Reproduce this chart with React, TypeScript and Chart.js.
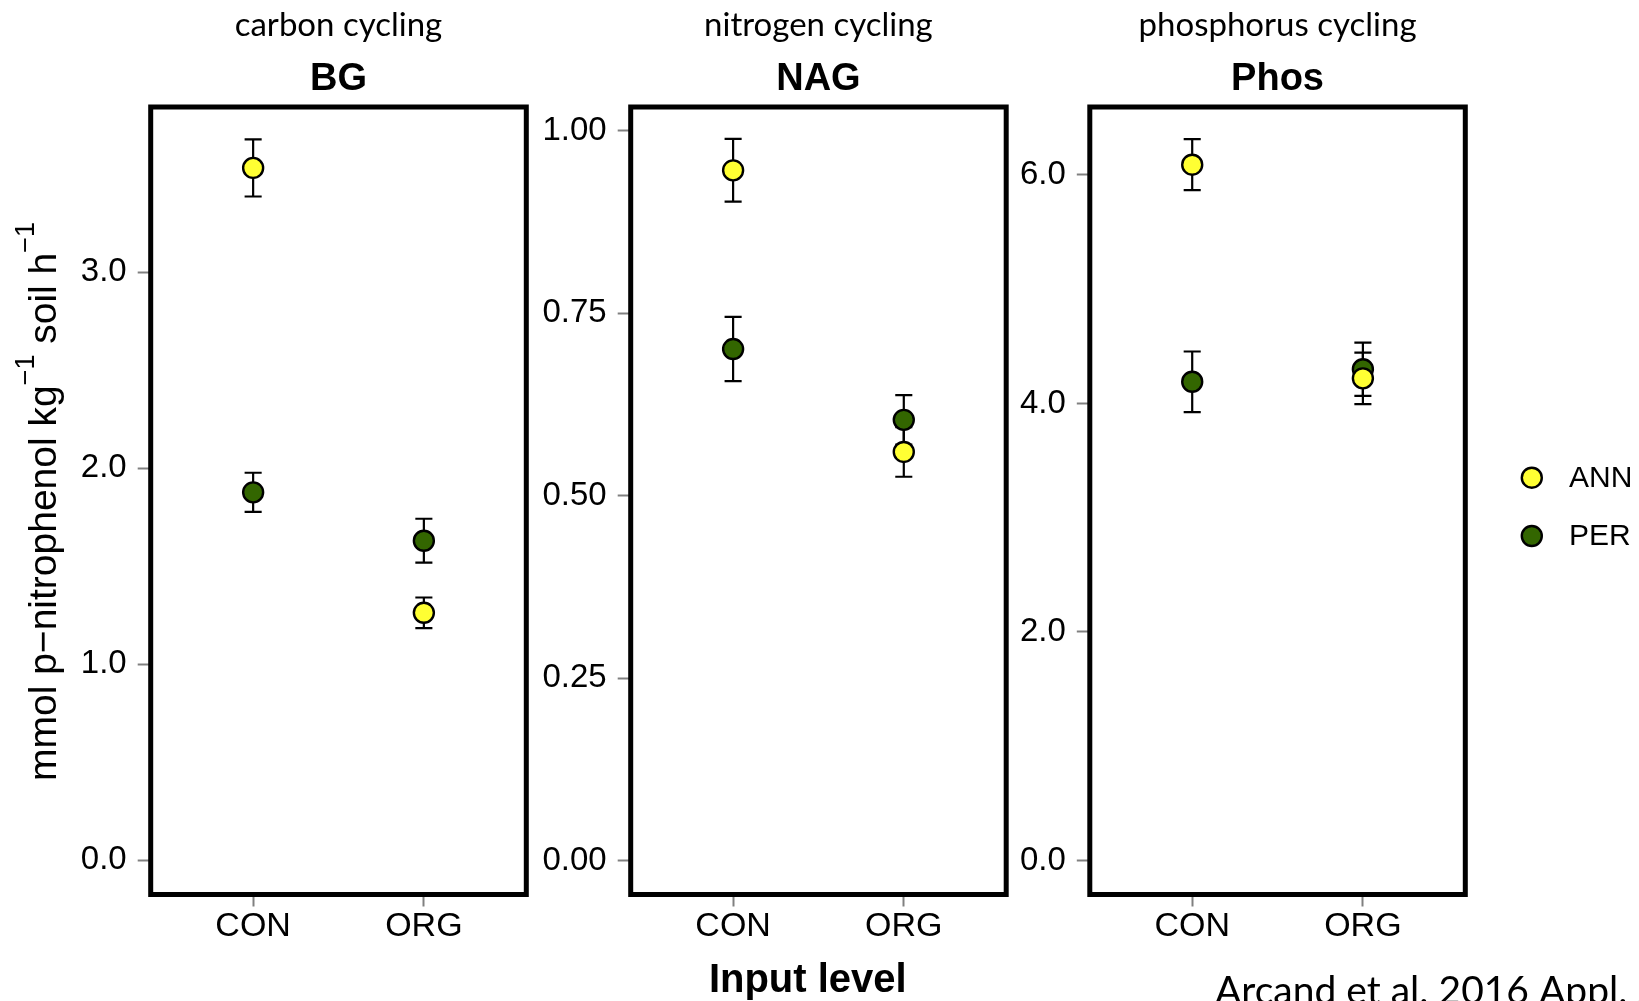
import React, { useEffect, useRef } from "react";
import { Chart, registerables } from "chart.js";

Chart.register(...registerables);

// ---------- data ----------
const categories = ["CON", "ORG"];
const groups = ["ANN", "PER"];
const groupColors = ["#FFFF33", "#336600"];

const panelNames = ["BG", "NAG", "Phos"];
const panelProcesses = ["carbon cycling", "nitrogen cycling", "phosphorus cycling"];

// BG (mean, standard error) per category
const bgAnnMean = [3.533, 1.262];
const bgAnnErr = [0.146, 0.078];
const bgPerMean = [1.877, 1.63];
const bgPerErr = [0.1, 0.112];

// NAG
const nagAnnMean = [0.946, 0.56];
const nagAnnErr = [0.043, 0.034];
const nagPerMean = [0.701, 0.604];
const nagPerErr = [0.044, 0.034];

// Phos
const phosAnnMean = [6.09, 4.22];
const phosAnnErr = [0.223, 0.225];
const phosPerMean = [4.19, 4.3];
const phosPerErr = [0.265, 0.233];

const bgTicks = [0, 1, 2, 3];
const nagTicks = [0, 0.25, 0.5, 0.75, 1.0];
const phosTicks = [0, 2, 4, 6];

const yAxisTitleParts = ["mmol p\u2212nitrophenol kg", "\u22121", " soil h", "\u22121"];
const xAxisTitle = "Input level";
const citation = "Arcand et al. 2016 Appl. Soil Ecol.";

// ---------- layout / style ----------
const W = 1639;
const H = 1001;
const PANEL_TOP = 107;
const PANEL_BOTTOM = 894.5;
const Y_AXIS_W = 100;
const X_AXIS_H = 60;
const ARIAL = "'Liberation Sans', Arial, sans-serif";
const CALIBRI = "Lato, 'Open Sans', sans-serif";

type PanelCfg = {
  left: number;
  right: number;
  yMin: number;
  yMax: number;
  ticks: number[];
  decimals: number;
  ann: number[];
  annErr: number[];
  per: number[];
  perErr: number[];
  index: number;
};

const panels: PanelCfg[] = [
  { index: 0, left: 150.7, right: 526.3, yMin: -0.176, yMax: 3.844, ticks: bgTicks, decimals: 1, ann: bgAnnMean, annErr: bgAnnErr, per: bgPerMean, perErr: bgPerErr },
  { index: 1, left: 630.7, right: 1006.2, yMin: -0.0466, yMax: 1.0328, ticks: nagTicks, decimals: 2, ann: nagAnnMean, annErr: nagAnnErr, per: nagPerMean, perErr: nagPerErr },
  { index: 2, left: 1089.8, right: 1465.3, yMin: -0.298, yMax: 6.595, ticks: phosTicks, decimals: 1, ann: phosAnnMean, annErr: phosAnnErr, per: phosPerMean, perErr: phosPerErr },
];

const errorBarPlugin = {
  id: "errorBars",
  beforeDatasetsDraw(chart: any) {
    const ctx = chart.ctx;
    const xs = chart.scales.x;
    const ys = chart.scales.y;
    ctx.save();
    ctx.strokeStyle = "#000";
    ctx.lineWidth = 2.2;
    chart.data.datasets.forEach((ds: any) => {
      ds.data.forEach((p: any, i: number) => {
        const e = ds.err[i];
        const px = xs.getPixelForValue(p.x);
        const x0 = xs.getPixelForValue(p.x - 0.05);
        const x1 = xs.getPixelForValue(p.x + 0.05);
        const yTop = ys.getPixelForValue(p.y + e);
        const yBot = ys.getPixelForValue(p.y - e);
        ctx.beginPath();
        ctx.moveTo(px, yTop);
        ctx.lineTo(px, yBot);
        ctx.moveTo(x0, yTop);
        ctx.lineTo(x1, yTop);
        ctx.moveTo(x0, yBot);
        ctx.lineTo(x1, yBot);
        ctx.stroke();
      });
    });
    ctx.restore();
  },
};

const boxPlugin = {
  id: "panelBox",
  afterDatasetsDraw(chart: any) {
    const { ctx, chartArea } = chart;
    ctx.save();
    ctx.strokeStyle = "#000";
    ctx.lineWidth = 5;
    ctx.strokeRect(chartArea.left, chartArea.top, chartArea.right - chartArea.left, chartArea.bottom - chartArea.top);
    ctx.restore();
  },
};

function makeTextPlugin(cfg: PanelCfg) {
  return {
    id: "panelText" + cfg.index,
    afterDraw(chart: any) {
      const { ctx, chartArea } = chart;
      const cx = (chartArea.left + chartArea.right) / 2;
      ctx.save();
      ctx.fillStyle = "#000";
      ctx.textAlign = "center";
      ctx.textBaseline = "alphabetic";
      ctx.font = `33px ${CALIBRI}`;
      ctx.fillText(panelProcesses[cfg.index], cx, 36);
      ctx.font = `bold 38px ${ARIAL}`;
      ctx.fillText(panelNames[cfg.index], cx, 89.5);

      if (cfg.index === 0) {
        // y axis title with superscripts
        ctx.translate(56, 781);
        ctx.rotate(-Math.PI / 2);
        ctx.textAlign = "left";
        let x = 0;
        yAxisTitleParts.forEach((t, i) => {
          const sup = i % 2 === 1;
          ctx.font = sup ? `27px ${ARIAL}` : `39px ${ARIAL}`;
          ctx.fillText(t, x, sup ? -22 : 0);
          x += ctx.measureText(t).width;
        });
      }
      if (cfg.index === 1) {
        ctx.font = `bold 40px ${ARIAL}`;
        ctx.textAlign = "center";
        ctx.fillText(xAxisTitle, 807.8, 991.7);
      }
      if (cfg.index === 2) {
        // legend
        const lx = 1531.8;
        const ly = [477.7, 536];
        chart.data.datasets.forEach((ds: any, i: number) => {
          ctx.beginPath();
          ctx.arc(lx, ly[i], 10, 0, Math.PI * 2);
          ctx.fillStyle = ds.backgroundColor;
          ctx.fill();
          ctx.lineWidth = 2.4;
          ctx.strokeStyle = "#000";
          ctx.stroke();
          ctx.fillStyle = "#000";
          ctx.font = `30px ${ARIAL}`;
          ctx.textAlign = "left";
          ctx.textBaseline = "middle";
          ctx.fillText(ds.label, 1569, ly[i] + 1);
        });
        ctx.textBaseline = "alphabetic";
        ctx.textAlign = "left";
        ctx.font = `39px ${CALIBRI}`;
        ctx.fillText(citation, 1215, 1004);
      }
      ctx.restore();
    },
  };
}

function buildChart(canvas: HTMLCanvasElement, cfg: PanelCfg) {
  const series = [
    { mean: cfg.ann, err: cfg.annErr },
    { mean: cfg.per, err: cfg.perErr },
  ];
  return new Chart(canvas, {
    type: "scatter",
    data: {
      datasets: series.map((s, gi) => ({
        label: groups[gi],
        data: categories.map((_, ci) => ({ x: ci + 1, y: s.mean[ci] })),
        err: s.err,
        backgroundColor: groupColors[gi],
        borderColor: "#000",
        borderWidth: 2.4,
        pointRadius: 10,
        pointHoverRadius: 10,
      })) as any,
    },
    options: {
      animation: false,
      responsive: false,
      events: [],
      layout: {
        padding: {
          left: cfg.left - Y_AXIS_W,
          right: W - cfg.right,
          top: PANEL_TOP,
          bottom: H - PANEL_BOTTOM - X_AXIS_H,
        },
      },
      plugins: {
        legend: { display: false },
        tooltip: { enabled: false },
        title: { display: false },
      },
      scales: {
        x: {
          type: "linear",
          min: 0.4,
          max: 2.6,
          afterBuildTicks: (s: any) => {
            s.ticks = categories.map((_, i) => ({ value: i + 1 }));
          },
          afterFit: (s: any) => {
            s.height = X_AXIS_H;
          },
          ticks: {
            callback: (v: any) => categories[Math.round(Number(v)) - 1] ?? "",
            font: { family: ARIAL, size: 34 },
            color: "#000",
            padding: 0,
            autoSkip: false,
            maxRotation: 0,
          },
          grid: {
            display: true,
            drawOnChartArea: false,
            drawTicks: true,
            tickLength: 12,
            tickColor: "#808080",
            tickWidth: 2,
          },
          border: { display: false },
        },
        y: {
          type: "linear",
          min: cfg.yMin,
          max: cfg.yMax,
          afterBuildTicks: (s: any) => {
            s.ticks = cfg.ticks.map((v) => ({ value: v }));
          },
          afterFit: (s: any) => {
            s.width = Y_AXIS_W;
          },
          ticks: {
            callback: (v: any) => Number(v).toFixed(cfg.decimals),
            font: { family: ARIAL, size: 33 },
            color: "#000",
            padding: 11,
            autoSkip: false,
          },
          grid: {
            display: true,
            drawOnChartArea: false,
            drawTicks: true,
            tickLength: 13,
            tickColor: "#808080",
            tickWidth: 2,
          },
          border: { display: false },
        },
      },
    },
    plugins: [errorBarPlugin, boxPlugin, makeTextPlugin(cfg)],
  } as any);
}

function Panel({ cfg }: { cfg: PanelCfg }) {
  const ref = useRef<HTMLCanvasElement | null>(null);
  useEffect(() => {
    if (!ref.current) return;
    const chart = buildChart(ref.current, cfg);
    return () => chart.destroy();
  }, [cfg]);
  return (
    <canvas
      ref={ref}
      width={W}
      height={H}
      style={{ position: "absolute", left: 0, top: 0, width: W, height: H }}
    />
  );
}

export default function App() {
  return (
    <div
      style={{
        position: "absolute",
        left: 0,
        top: 0,
        width: W,
        height: H,
        background: "#fff",
        overflow: "hidden",
      }}
    >
      {panels.map((p) => (
        <Panel key={p.index} cfg={p} />
      ))}
    </div>
  );
}
